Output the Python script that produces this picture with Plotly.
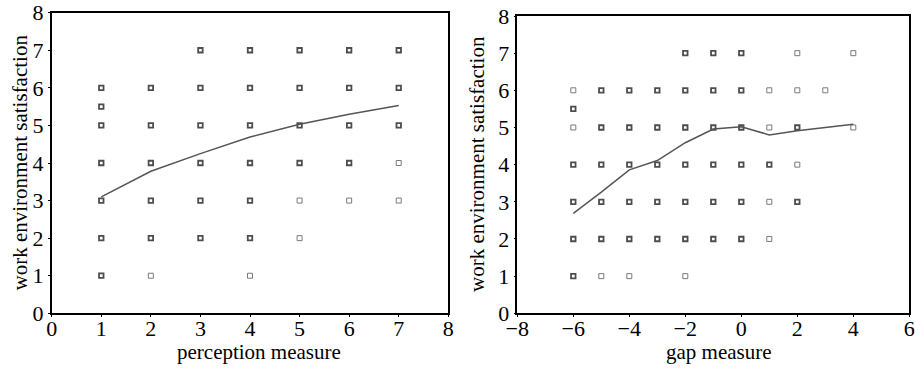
import plotly.graph_objects as go

# ---- left panel: perception measure ----
perc_dark_x = [1, 1, 1, 1, 1, 1, 1,
               2, 2, 2, 2, 2,
               3, 3, 3, 3, 3, 3,
               4, 4, 4, 4, 4, 4,
               5, 5, 5, 5,
               6, 6, 6, 6,
               7, 7, 7]
perc_dark_y = [1, 2, 3, 4, 5, 5.5, 6,
               2, 3, 4, 5, 6,
               2, 3, 4, 5, 6, 7,
               2, 3, 4, 5, 6, 7,
               4, 5, 6, 7,
               4, 5, 6, 7,
               5, 6, 7]
perc_light_x = [2, 4, 5, 5, 6, 7, 7]
perc_light_y = [1, 1, 2, 3, 3, 3, 4]
perc_line_x = [1, 2, 3, 4, 5, 6, 7]
perc_line_y = [3.10, 3.78, 4.25, 4.69, 5.03, 5.30, 5.53]

# ---- right panel: gap measure ----
gap_dark_x = [-6, -6, -6, -6, -6,
              -5, -5, -5, -5, -5,
              -4, -4, -4, -4, -4,
              -3, -3, -3, -3, -3,
              -2, -2, -2, -2, -2, -2,
              -1, -1, -1, -1, -1, -1,
              0, 0, 0, 0, 0, 0,
              1, 2, 2]
gap_dark_y = [1, 2, 3, 4, 5.5,
              2, 3, 4, 5, 6,
              2, 3, 4, 5, 6,
              2, 3, 4, 5, 6,
              2, 3, 4, 5, 6, 7,
              2, 3, 4, 5, 6, 7,
              2, 3, 4, 5, 6, 7,
              4, 3, 5]
gap_light_x = [-6, -6, -5, -4, -2, 1, 1, 1, 1, 2, 2, 2, 3, 4, 4]
gap_light_y = [5, 6, 1, 1, 1, 2, 3, 5, 6, 4, 6, 7, 6, 5, 7]
gap_line_x = [-6, -5, -4, -3, -2, -1, 0, 1, 2, 4]
gap_line_y = [2.69, 3.26, 3.86, 4.11, 4.59, 4.96, 5.02, 4.80, 4.91, 5.09]

x_ticks_left = [0, 1, 2, 3, 4, 5, 6, 7, 8]
x_ticks_right = [-8, -6, -4, -2, 0, 2, 4, 6]
y_ticks = [0, 1, 2, 3, 4, 5, 6, 7, 8]

x_title_left = "perception measure"
x_title_right = "gap measure"
y_title = "work environment satisfaction"

FONT = "Liberation Serif, Times New Roman, serif"
DARK = "#4d4d4d"
LIGHT = "#7a7a7a"

fig = go.Figure()

def add_panel(xa, ya, dx, dy, lx, ly, lnx, lny):
    fig.add_trace(go.Scatter(x=lx, y=ly, mode="markers", xaxis=xa, yaxis=ya,
                             marker=dict(symbol="square-open", size=5, color=LIGHT,
                                         line=dict(width=1, color=LIGHT)),
                             showlegend=False, hoverinfo="skip"))
    fig.add_trace(go.Scatter(x=dx, y=dy, mode="markers", xaxis=xa, yaxis=ya,
                             marker=dict(symbol="square-open", size=4.5, color=DARK,
                                         line=dict(width=1.8, color=DARK)),
                             showlegend=False, hoverinfo="skip"))
    fig.add_trace(go.Scatter(x=lnx, y=lny, mode="lines", xaxis=xa, yaxis=ya,
                             line=dict(color="#555555", width=1.5),
                             showlegend=False, hoverinfo="skip"))

add_panel("x", "y", perc_dark_x, perc_dark_y, perc_light_x, perc_light_y, perc_line_x, perc_line_y)
add_panel("x2", "y2", gap_dark_x, gap_dark_y, gap_light_x, gap_light_y, gap_line_x, gap_line_y)

W, H = 915, 368
axis_common = dict(showgrid=False, zeroline=False, showline=True, linecolor="black",
                   linewidth=1.5, mirror=True, ticks="outside", ticklen=2, tickcolor="black",
                   automargin=False,
                   tickfont=dict(family=FONT, size=22, color="black"))
xaxis_extra = dict(ticklabelstandoff=-7)

title_font = dict(family=FONT, size=21, color="black")

fig.update_layout(
    width=W, height=H,
    margin=dict(l=0, r=0, t=0, b=0, autoexpand=False),
    paper_bgcolor="white", plot_bgcolor="white",
    xaxis=dict(domain=[51.7 / W, 448.3 / W], range=[0, 8], tickvals=x_ticks_left,
               anchor="y", **axis_common, **xaxis_extra),
    yaxis=dict(domain=[1 - 313.3 / H, 1 - 12.7 / H], range=[0, 8], tickvals=y_ticks,
               anchor="x", **axis_common),
    xaxis2=dict(domain=[517.3 / W, 909.3 / W], range=[-8, 6], tickvals=x_ticks_right,
                anchor="y2", **axis_common, **xaxis_extra),
    yaxis2=dict(domain=[1 - 313.3 / H, 1 - 16 / H], range=[0, 8], tickvals=y_ticks,
                anchor="x2", **axis_common),
    annotations=[
        dict(text=x_title_left, xref="paper", yref="paper", x=258.5 / W, y=1 - 352 / H,
             showarrow=False, font=title_font, xanchor="center", yanchor="middle"),
        dict(text=x_title_right, xref="paper", yref="paper", x=718.5 / W, y=1 - 352 / H,
             showarrow=False, font=title_font, xanchor="center", yanchor="middle"),
        dict(text=y_title, xref="paper", yref="paper", x=19 / W, y=1 - 162.5 / H,
             showarrow=False, font=title_font, textangle=-90, xanchor="center", yanchor="middle"),
        dict(text=y_title, xref="paper", yref="paper", x=477 / W, y=1 - 164 / H,
             showarrow=False, font=title_font, textangle=-90, xanchor="center", yanchor="middle"),
    ],
)

fig.write_html("out.html", config={"displayModeBar": False},
               post_script="document.body.style.margin='0px';document.body.style.overflow='hidden';")
